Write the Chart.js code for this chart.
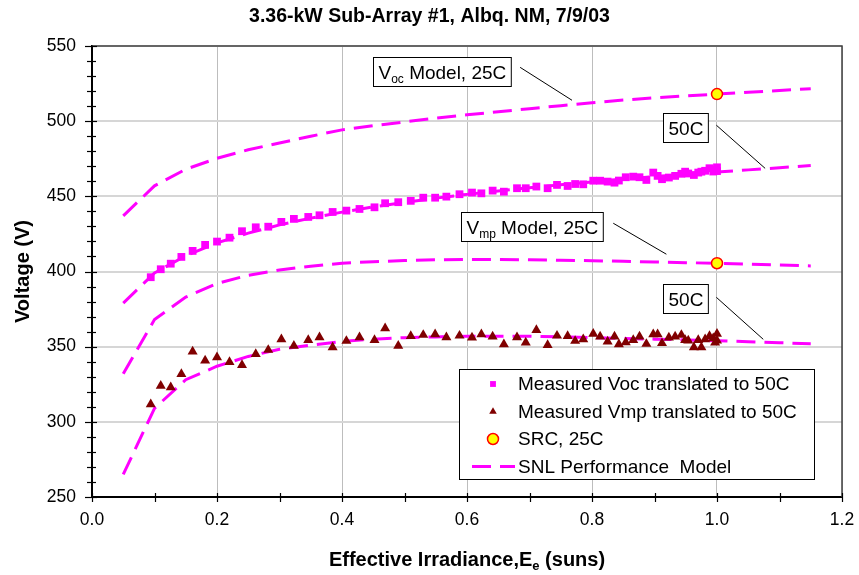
<!DOCTYPE html>
<html lang="en">
<head>
<meta charset="UTF-8">
<title>3.36-kW Sub-Array #1, Albq. NM, 7/9/03</title>
<script src="https://cdn.jsdelivr.net/npm/chart.js"></script>
<style>
  body { margin: 0; background: #fff; }
</style>
</head>
<body>
<canvas id="voltChart" width="859" height="575"></canvas>
<script>
// SNL performance model curves, evaluated every 0.05 suns
const modelEe = [0.05, 0.10, 0.15, 0.20, 0.25, 0.30, 0.35, 0.40, 0.45, 0.50, 0.55, 0.60,
                 0.65, 0.70, 0.75, 0.80, 0.85, 0.90, 0.95, 1.00, 1.05, 1.10, 1.15];
const vocModel25 = [437, 457, 468, 475.3, 481, 485.5, 490, 494.2, 497, 499.5, 502, 504.2,
                    506.3, 508.3, 510.3, 512.3, 514, 515.5, 516.8, 518, 519.2, 520.4, 521.6];
const vocModel50 = [379, 399, 410.5, 419, 425.5, 431, 435.5, 439.5, 443, 446, 448.8, 451.3,
                    453.6, 455.7, 457.7, 459.6, 461.4, 463.1, 464.7, 466.2, 467.6, 469, 470.5];
const vmpModel25 = [332, 368, 383, 392, 397.5, 401, 403.5, 405.5, 406.5, 407.3, 407.8, 408,
                    408, 407.8, 407.5, 407.2, 406.8, 406.3, 405.9, 405.4, 404.9, 404.3, 403.7];
const vmpModel50 = [265, 309, 328, 337, 343.5, 348.3, 351, 353.5, 355, 356, 356.5, 357,
                    357, 357, 356.5, 356, 355.5, 355, 354.5, 354, 353.3, 352.6, 352];

// measured data, translated to 50C (same irradiance for Voc and Vmp)
const measEe = [0.094, 0.110, 0.126, 0.143, 0.161, 0.181, 0.200, 0.220, 0.240, 0.262, 0.282, 0.303,
                0.323, 0.346, 0.364, 0.385, 0.407, 0.428, 0.452, 0.469, 0.490, 0.510, 0.530, 0.549,
                0.567, 0.588, 0.608, 0.623, 0.641, 0.659, 0.680, 0.694, 0.711, 0.729, 0.744, 0.761,
                0.773, 0.786, 0.802, 0.813, 0.825, 0.836, 0.843, 0.854, 0.866, 0.876, 0.887, 0.898,
                0.905, 0.912, 0.923, 0.933, 0.943, 0.949, 0.954, 0.963, 0.970, 0.975, 0.981, 0.988,
                0.994, 0.997, 1.000, 1.000];
const vocMeas = [396.2, 401.5, 405.2, 409.7, 413.7, 417.7, 419.9, 422.5, 426.8, 429.4, 429.8, 433.0,
                 435.0, 436.3, 437.4, 439.6, 440.5, 441.6, 442.7, 445.4, 446.1, 447.0, 449.1, 449.1,
                 449.8, 451.4, 452.5, 452.0, 453.8, 453.1, 455.4, 455.4, 456.5, 455.4, 457.6, 456.9,
                 458.2, 458.0, 460.4, 460.4, 459.8, 459.1, 460.5, 462.7, 463.1, 462.7, 460.9, 465.8,
                 463.6, 461.4, 462.5, 463.6, 465.0, 466.4, 465.2, 464.2, 465.8, 466.4, 467.0, 468.7,
                 466.5, 467.8, 469.3, 466.8];
const vmpMeas = [311.6, 323.9, 323.0, 331.8, 346.7, 340.7, 342.9, 339.8, 337.8, 345.1, 347.8, 354.9,
                 350.5, 354.4, 356.2, 349.6, 353.8, 356.2, 354.4, 362.2, 350.5, 357.1, 357.8, 358.2,
                 356.2, 357.3, 356.0, 358.2, 356.7, 351.6, 356.2, 352.7, 361.1, 351.1, 357.3, 357.1,
                 353.8, 354.9, 358.5, 356.7, 353.4, 356.7, 351.6, 352.9, 354.4, 356.7, 351.8, 358.2,
                 358.2, 352.3, 356.0, 356.7, 357.8, 354.4, 354.0, 349.6, 354.4, 349.6, 354.9, 357.1,
                 355.6, 352.7, 358.5, 354.0];

// SRC (1 sun, 25C) reference points
const srcEe = [1.0, 1.0];
const srcV = [518, 405.5];

const xTicks = { min: 0, max: 1.2, minor: 0.1, major: 0.2 };
const yTicks = { min: 250, max: 550, minor: 10, major: 50 };

const chartTitle = '3.36-kW Sub-Array #1, Albq. NM, 7/9/03';

// callout labels, anchored in data units
const callouts = [
  { parts: [['V', 0], ['oc', 1], [' Model, 25C', 0]], x: 0.450, y: 542.5, from: [0.685, 535.8], to: [0.768, 513.9] },
  { parts: [['50C', 0]], x: 0.913, y: 505.3, from: [0.999, 497.3], to: [1.077, 468.6] },
  { parts: [['V', 0], ['mp', 1], [' Model, 25C', 0]], x: 0.591, y: 439.5, from: [0.834, 432.1], to: [0.919, 411.5] },
  { parts: [['50C', 0]], x: 0.913, y: 391.5, from: [0.999, 382.8], to: [1.074, 354.9] }
];

const FONT = "'Liberation Sans', Arial, sans-serif";
const MAGENTA = '#ff00ff';
const DASH = [19, 9];

const pts = (xs, ys) => xs.map((x, i) => ({ x: x, y: ys[i] }));

const modelLine = (label, ys) => ({
  type: 'line', label: label, data: pts(modelEe, ys),
  borderColor: MAGENTA, borderWidth: 3, borderDash: DASH,
  pointRadius: 0, tension: 0, fill: false, order: 3
});

function drawRich(ctx, parts, x, y, size, bold) {
  let cx = x;
  parts.forEach(([txt, sub]) => {
    ctx.font = (bold ? 'bold ' : '') + (sub ? Math.round(size * 0.65) : size) + 'px ' + FONT;
    ctx.fillText(txt, cx, sub ? y + 4 : y);
    cx += ctx.measureText(txt).width;
  });
  return cx - x;
}

function richWidth(ctx, parts, size, bold) {
  let w = 0;
  parts.forEach(([txt, sub]) => {
    ctx.font = (bold ? 'bold ' : '') + (sub ? Math.round(size * 0.65) : size) + 'px ' + FONT;
    w += ctx.measureText(txt).width;
  });
  return w;
}

const decor = {
  id: 'decor',
  afterDraw(chart) {
    const ctx = chart.ctx;
    const a = chart.chartArea;
    const xs = chart.scales.x, ys = chart.scales.y;
    ctx.save();

    // plot frame (top/right)
    ctx.strokeStyle = '#404040';
    ctx.lineWidth = 1.5;
    ctx.beginPath();
    ctx.moveTo(a.left, a.top); ctx.lineTo(a.right, a.top); ctx.lineTo(a.right, a.bottom);
    ctx.stroke();

    // tick marks crossing the axes
    ctx.strokeStyle = '#000';
    ctx.lineWidth = 1.2;
    for (let v = yTicks.min; v <= yTicks.max; v += yTicks.minor) {
      const py = Math.round(ys.getPixelForValue(v)) + 0.5;
      const big = v % yTicks.major === 0;
      ctx.beginPath();
      ctx.moveTo(a.left - (big ? 7 : 5), py); ctx.lineTo(a.left + (big ? 5 : 4), py);
      ctx.stroke();
    }
    for (let i = 0; i <= Math.round((xTicks.max - xTicks.min) / xTicks.minor); i++) {
      const px = Math.round(xs.getPixelForValue(xTicks.min + i * xTicks.minor)) + 0.5;
      ctx.beginPath();
      ctx.moveTo(px, a.bottom - 4); ctx.lineTo(px, a.bottom + 5);
      ctx.stroke();
    }

    // chart title, centred on the canvas
    ctx.fillStyle = '#000';
    ctx.textAlign = 'center';
    ctx.textBaseline = 'middle';
    ctx.font = 'bold 19.5px ' + FONT;
    ctx.fillText(chartTitle, chart.width / 2, 17);
    ctx.textAlign = 'left';

    // x axis title with subscript
    const xt = [['Effective Irradiance,E', 0], ['e', 1], [' (suns)', 0]];
    const xtSize = 20;
    const tw = richWidth(ctx, xt, xtSize, true);
    ctx.textBaseline = 'alphabetic';
    drawRich(ctx, xt, (a.left + a.right) / 2 - tw / 2, 566, xtSize, true);

    // callouts
    const cSize = 19;
    callouts.forEach(c => {
      const bx = Math.round(xs.getPixelForValue(c.x)) + 0.5;
      const by = Math.round(ys.getPixelForValue(c.y)) + 0.5;
      const w = richWidth(ctx, c.parts, cSize, false) + 10;
      const h = 29;
      ctx.fillStyle = '#fff';
      ctx.fillRect(bx, by, w, h);
      ctx.strokeStyle = '#000';
      ctx.lineWidth = 1;
      ctx.strokeRect(bx, by, w, h);
      ctx.fillStyle = '#000';
      drawRich(ctx, c.parts, bx + 5, by + 21, cSize, false);
      ctx.beginPath();
      ctx.moveTo(xs.getPixelForValue(c.from[0]), ys.getPixelForValue(c.from[1]));
      ctx.lineTo(xs.getPixelForValue(c.to[0]), ys.getPixelForValue(c.to[1]));
      ctx.stroke();
    });

    // legend box
    const lx = a.right - 383, ly = a.top + 323, lw = 355, lh = 110;
    ctx.fillStyle = '#fff';
    ctx.fillRect(lx, ly, lw, lh);
    ctx.strokeStyle = '#000';
    ctx.lineWidth = 1;
    ctx.strokeRect(lx + 0.5, ly + 0.5, lw, lh);
    const ds = chart.data.datasets;
    const rows = [ds[4], ds[5], ds[6], ds[0]];
    rows.forEach((d, i) => {
      const ry = ly + 15 + i * 27.5;
      const mx = lx + 34;
      if (d.type === 'line') {
        ctx.strokeStyle = d.borderColor;
        ctx.lineWidth = d.borderWidth;
        ctx.setLineDash(d.borderDash);
        ctx.beginPath();
        ctx.moveTo(lx + 13, ry); ctx.lineTo(lx + 56, ry);
        ctx.stroke();
        ctx.setLineDash([]);
      } else {
        ctx.fillStyle = d.backgroundColor;
        ctx.strokeStyle = d.borderColor;
        ctx.lineWidth = d.borderWidth;
        Chart.helpers.drawPoint(ctx, {
          pointStyle: d.pointStyle, rotation: 0, borderWidth: d.borderWidth,
          radius: d.pointStyle === 'circle' ? d.pointRadius : d.pointRadius * 0.75
        }, mx, ry);
      }
      ctx.fillStyle = '#000';
      ctx.font = '19px ' + FONT;
      ctx.textBaseline = 'middle';
      ctx.fillText(d.label, lx + 59, ry + 1);
    });
    ctx.restore();
  }
};

Chart.defaults.font.family = FONT;
Chart.defaults.color = '#000';

new Chart(document.getElementById('voltChart'), {
  type: 'scatter',
  data: {
    datasets: [
      modelLine('SNL Performance  Model', vocModel25),
      modelLine('Voc model 50C', vocModel50),
      modelLine('Vmp model 25C', vmpModel25),
      modelLine('Vmp model 50C', vmpModel50),
      {
        label: 'Measured Voc translated to 50C', data: pts(measEe, vocMeas),
        pointStyle: 'rect', pointRadius: 5.5, backgroundColor: MAGENTA, borderColor: MAGENTA,
        borderWidth: 0, order: 2
      },
      {
        label: 'Measured Vmp translated to 50C', data: pts(measEe, vmpMeas),
        pointStyle: 'triangle', pointRadius: 5.8, backgroundColor: '#800000', borderColor: '#800000',
        borderWidth: 0, order: 1
      },
      {
        label: 'SRC, 25C', data: pts(srcEe, srcV),
        pointStyle: 'circle', pointRadius: 5.5, backgroundColor: '#ffff00', borderColor: '#ff0000',
        borderWidth: 1.5, order: 0
      }
    ]
  },
  options: {
    responsive: false,
    animation: false,
    events: [],
    layout: { padding: { left: 0, right: 17, top: 46, bottom: 0 } },
    plugins: {
      legend: { display: false },
      tooltip: { enabled: false },
      title: { display: false }
    },
    scales: {
      x: {
        type: 'linear',
        min: xTicks.min, max: xTicks.max,
        afterFit: s => { s.height = 78; s.paddingRight = 0; s.paddingLeft = 0; },
        border: { display: true, color: '#000', width: 2 },
        grid: {
          drawTicks: false, lineWidth: 1,
          color: c => (c.tick && Math.round(c.tick.value / xTicks.minor) % 2 === 0) ? '#bdbdbd' : 'rgba(0,0,0,0)'
        },
        ticks: {
          stepSize: xTicks.minor, autoSkip: false, maxRotation: 0, padding: 13,
          font: { size: 17.5 },
          callback: v => {
            const r = Math.round(v / xTicks.minor);
            return r % 2 === 0 ? (r * xTicks.minor).toFixed(1) : '';
          }
        }
      },
      y: {
        min: yTicks.min, max: yTicks.max,
        afterFit: s => { s.width = 92; s.paddingTop = 0; s.paddingBottom = 0; },
        border: { display: true, color: '#000', width: 2 },
        grid: {
          drawTicks: false, lineWidth: 2,
          color: c => (c.tick && c.tick.value % yTicks.major === 0) ? '#d6d6d6' : 'rgba(0,0,0,0)'
        },
        title: {
          display: true, text: 'Voltage (V)',
          font: { size: 20, weight: 'bold' },
          padding: { top: 11, bottom: 0 }
        },
        ticks: {
          stepSize: yTicks.minor, autoSkip: false, padding: 16,
          font: { size: 17.5 },
          callback: v => (v % yTicks.major === 0 ? String(v) : '')
        }
      }
    }
  },
  plugins: [decor]
});
</script>
</body>
</html>
